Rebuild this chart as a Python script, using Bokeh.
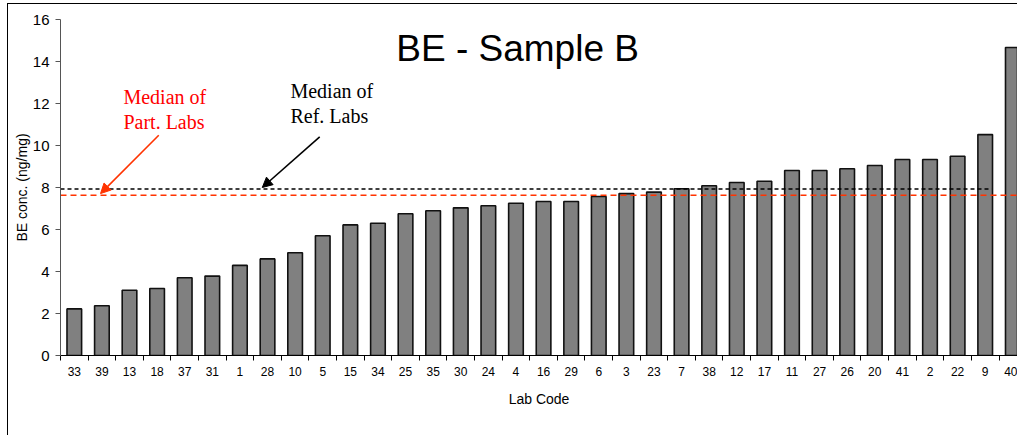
from bokeh.plotting import figure
from bokeh.models import (Range1d, FixedTicker, CustomJSTickFormatter, Label,
                          Arrow, NormalHead, ColumnDataSource, InlineStyleSheet)
from bokeh.embed import file_html
from bokeh.resources import INLINE

# ---- data ----
lab_codes = ["33", "39", "13", "18", "37", "31", "1", "28", "10", "5", "15", "34",
             "25", "35", "30", "24", "4", "16", "29", "6", "3", "23", "7", "38",
             "12", "17", "11", "27", "26", "20", "41", "2", "22", "9", "40"]
be_conc = [2.22, 2.37, 3.11, 3.19, 3.70, 3.78, 4.29, 4.60, 4.89, 5.70, 6.22, 6.30,
           6.75, 6.89, 7.03, 7.13, 7.25, 7.33, 7.33, 7.57, 7.71, 7.78, 7.94, 8.08,
           8.24, 8.30, 8.81, 8.81, 8.89, 9.05, 9.33, 9.33, 9.49, 10.52, 14.67]
median_ref_labs = 7.93
median_part_labs = 7.63
y_ticks = [0, 2, 4, 6, 8, 10, 12, 14, 16]

n = len(lab_codes)
xs = list(range(n))
src = ColumnDataSource(dict(x=xs, top=be_conc, code=lab_codes))

# chart-area border: left and top edges (drawn as a CSS overlay)
border_css = InlineStyleSheet(css="""
:host { position: relative; }
:host::after {
  content: "";
  position: absolute;
  left: 7px; top: 3px; right: -20px; bottom: -20px;
  border-left: 1px solid #000;
  border-top: 1px solid #000;
  pointer-events: none;
  z-index: 10;
}
""")

W, H = 1017, 435
p = figure(width=W, height=H, output_backend="svg", toolbar_location=None,
           x_range=Range1d(-0.5, -0.5 + 34.67), y_range=Range1d(0, 16),
           min_border_left=60, min_border_right=0, min_border_top=19,
           min_border_bottom=80, stylesheets=[border_css])
p.outline_line_color = None
p.grid.visible = False
p.background_fill_color = "white"
p.border_fill_color = "white"

p.vbar(x="x", top="top", width=0.53, source=src, fill_color="#808080",
       line_color="#111111", line_width=1.6)

# median lines
p.line(x=[-0.5, 33.23], y=[median_ref_labs, median_ref_labs], line_color="black",
       line_dash="4 3", line_width=1.4)
p.line(x=[-0.5, 40], y=[median_part_labs, median_part_labs], line_color="#FF3300",
       line_dash="6 4", line_width=1.4)

# axes
xa = p.xaxis[0]
xa.ticker = FixedTicker(ticks=xs, minor_ticks=[i - 0.5 for i in range(n + 1)])
xa.formatter = CustomJSTickFormatter(args=dict(labels=lab_codes),
                                     code="const i = Math.round(tick); return (labels[i] !== undefined) ? labels[i] : '';")
xa.major_tick_out = 0
xa.major_tick_in = 0
xa.minor_tick_out = 5
xa.minor_tick_in = 0
xa.minor_tick_line_color = "black"
xa.axis_line_color = "black"
xa.major_label_text_font = "Liberation Sans"
xa.major_label_text_font_size = "12px"
xa.major_label_text_color = "black"
xa.major_label_standoff = 6
xa.axis_label = "Lab Code"
xa.axis_label_text_font = "Liberation Sans"
xa.axis_label_text_font_size = "14px"
xa.axis_label_text_font_style = "normal"
xa.axis_label_text_color = "black"
xa.axis_label_standoff = 12

ya = p.yaxis[0]
ya.ticker = FixedTicker(ticks=y_ticks)
ya.minor_tick_out = 0
ya.minor_tick_in = 0
ya.major_tick_in = 0
ya.major_tick_out = 5
ya.axis_line_color = "#555555"
ya.major_tick_line_color = "#555555"
ya.major_label_text_font = "Liberation Sans"
ya.major_label_text_font_size = "15px"
ya.major_label_text_color = "black"
ya.major_label_standoff = 6
ya.axis_label = "BE conc. (ng/mg)"
ya.axis_label_text_font = "Liberation Sans"
ya.axis_label_text_font_size = "14px"
ya.axis_label_text_font_style = "normal"
ya.axis_label_text_color = "black"
ya.axis_label_standoff = 0

# title inside plot
p.add_layout(Label(x=16.06, y=14.63, text="BE - Sample B", text_align="center",
                   text_baseline="middle", text_font="Liberation Sans",
                   text_font_size="37px", text_color="black"))

# annotations
red_txt = "#FF0000"
for txt, yy in [("Median of", 12.30), ("Part. Labs", 11.11)]:
    p.add_layout(Label(x=1.78, y=yy, text=txt, text_align="left", text_baseline="middle",
                       text_font="Liberation Serif", text_font_size="20px",
                       text_color=red_txt))
for txt, yy in [("Median of", 12.59), ("Ref. Labs", 11.40)]:
    p.add_layout(Label(x=7.83, y=yy, text=txt, text_align="left", text_baseline="middle",
                       text_font="Liberation Serif", text_font_size="20px",
                       text_color="black"))

p.add_layout(Arrow(end=NormalHead(size=10, fill_color="#FF3300", line_color="#FF3300"),
                   x_start=3.06, y_start=10.49, x_end=0.95, y_end=7.71,
                   line_color="#FF3300", line_width=1.6))
p.add_layout(Arrow(end=NormalHead(size=10, fill_color="black", line_color="black"),
                   x_start=8.89, y_start=10.41, x_end=6.81, y_end=8.0,
                   line_color="black", line_width=1.6))

open("out.html", "w").write(file_html(p, INLINE))
